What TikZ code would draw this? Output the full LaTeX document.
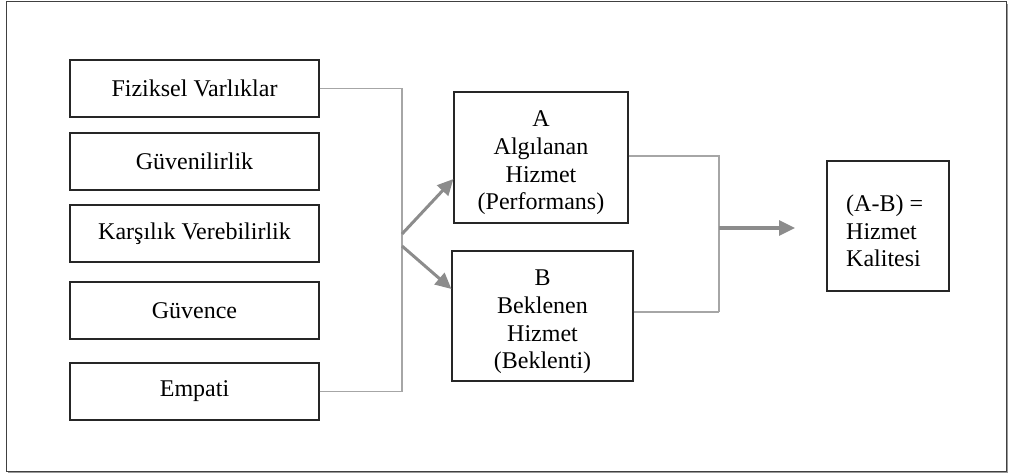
\documentclass[tikz,border=0pt]{standalone}
\usepackage{fontspec}
\setmainfont{Liberation Serif}
\usetikzlibrary{arrows.meta}
\begin{document}
\begin{tikzpicture}[x=1pt,y=-1pt,
  every node/.style={font=\fontsize{24}{27.6}\selectfont},
  leftbox/.style={draw=black!85,line width=1.1pt,minimum width=249pt,minimum height=57pt,inner sep=0pt},
  midbox/.style={draw=black!85,line width=1.1pt,inner sep=0pt},
  boxtext/.style={inner sep=0pt,align=center},
  conn/.style={draw=black!35,line width=1.4pt},
  bigarrow/.style={draw=black!45,line width=3pt,-{Triangle[length=16pt,width=15pt]}}]
\useasboundingbox (0,0) rectangle (1009,473);
% frame
\draw[black!40,line width=2pt] (1007,4) -- (1007,472) -- (8,472);
\draw[black!75,line width=1pt] (6,2) rectangle (1006,471);
% left boxes
\node[leftbox] (fiz) at (194.5,88.5) {Fiziksel Varlıklar};
\node[leftbox] (guv) at (194.5,161.5) {Güvenilirlik};
\node[leftbox] (kar) at (194.5,233.5) {Karşılık Verebilirlik};
\node[leftbox] (gvc) at (194.5,310.5) {Güvence};
\node[leftbox] (emp) at (194.5,391.5) {Empati};
% middle boxes
\node[midbox,minimum width=174pt,minimum height=131pt] (A) at (541,157.5) {};
\node[boxtext] (At) at (541,163) {A\\Algılanan\\Hizmet\\(Performans)};
\node[midbox,minimum width=181pt,minimum height=130pt] (B) at (542.5,316) {};
\node[boxtext] (Bt) at (542.5,322) {B\\Beklenen\\Hizmet\\(Beklenti)};
% result box
\node[draw=black!85,line width=1.1pt,minimum width=122pt,minimum height=130pt,inner sep=0pt] (R) at (888,226) {};
\node[inner sep=0pt,align=left,anchor=west] (Rt) at (846,231) {(A-B) =\\Hizmet\\Kalitesi};
% left connectors
\coordinate (jt) at (402,88.5);
\coordinate (jb) at (402,391.5);
\coordinate (s1) at (402,234);
\coordinate (s2) at (402,246);
\draw[conn] (fiz.east) -- (jt) -- (jb);
\draw[conn] (emp.east) -- (jb);
\draw[bigarrow] (s1) -- ([yshift=-21.5pt]A.west);
\draw[bigarrow] (s2) -- ([yshift=27pt]B.west);
% right connectors
\coordinate (rt) at (719,156);
\coordinate (rb) at (719,312);
\coordinate (rs) at (719,228);
\coordinate (re) at (795,228);
\draw[conn] ([yshift=1.5pt]A.east) -- (rt) -- (rb);
\draw[conn] ([yshift=4pt]B.east) -- (rb);
\draw[bigarrow] (rs) -- (re);
\end{tikzpicture}
\end{document}
